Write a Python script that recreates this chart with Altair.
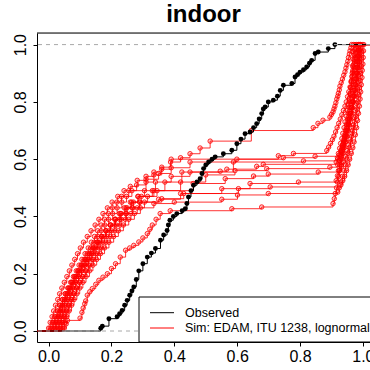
import altair as alt
import pandas as pd

# ---- data: ECDF step points (x, F) ----
observed = [(0.166,0.010),(0.171,0.017),(0.192,0.043),(0.218,0.050),(0.226,0.060),(0.234,0.072),
            (0.242,0.090),(0.250,0.107),(0.258,0.125),(0.265,0.140),(0.271,0.154),(0.279,0.180),
            (0.287,0.210),(0.300,0.235),(0.314,0.258),(0.327,0.272),(0.340,0.288),(0.356,0.317),
            (0.366,0.335),(0.377,0.351),(0.381,0.370),(0.386,0.387),(0.397,0.400),(0.408,0.410),
            (0.425,0.420),(0.435,0.427),(0.440,0.445),(0.445,0.468),(0.453,0.490),(0.461,0.509),
            (0.472,0.520),(0.482,0.532),(0.488,0.550),(0.493,0.567),(0.500,0.580),(0.509,0.590),
            (0.520,0.600),(0.530,0.608),(0.556,0.619),(0.583,0.631),(0.599,0.654),(0.612,0.670),
            (0.625,0.689),(0.641,0.695),(0.652,0.710),(0.662,0.724),(0.670,0.740),(0.678,0.759),
            (0.683,0.775),(0.689,0.782),(0.699,0.800),(0.715,0.806),(0.728,0.820),(0.737,0.840),
            (0.747,0.858),(0.774,0.864),(0.784,0.887),(0.792,0.895),(0.800,0.904),(0.811,0.912),
            (0.821,0.922),(0.830,0.935),(0.837,0.945),(0.848,0.969),(0.858,0.974),(0.890,0.986),
            (0.911,1.000)]

sim_01 = [(0.000,0.01),(0.005,0.03),(0.011,0.05),(0.016,0.07),(0.022,0.09),(0.029,0.11),(0.035,0.13),
          (0.042,0.15),(0.050,0.17),(0.058,0.19),(0.066,0.21),(0.074,0.23),(0.083,0.25),(0.092,0.27),
          (0.101,0.29),(0.111,0.31),(0.123,0.33),(0.135,0.35),(0.148,0.37),(0.160,0.39),(0.173,0.41),
          (0.187,0.43),(0.202,0.45),(0.220,0.47),(0.240,0.49),(0.260,0.505),(0.282,0.526),(0.310,0.54),
          (0.335,0.555),(0.360,0.572),(0.388,0.59),(0.420,0.605),(0.450,0.619),(0.482,0.639),(0.514,0.663),
          (0.645,0.70),(0.842,0.71),(0.857,0.725),(0.873,0.736),(0.895,0.747),(0.900,0.756),(0.905,0.765),
          (0.908,0.775),(0.911,0.785),(0.914,0.797),(0.917,0.81),(0.920,0.82),(0.922,0.83),(0.925,0.842),
          (0.927,0.855),(0.931,0.867),(0.935,0.88),(0.939,0.893),(0.943,0.905),(0.946,0.918),(0.949,0.93),
          (0.952,0.942),(0.954,0.955),(0.957,0.967),(0.959,0.978),(0.962,0.989),(0.964,1.0)]
sim_02 = [(0.010,0.01),(0.016,0.03),(0.023,0.05),(0.030,0.07),(0.037,0.09),(0.045,0.11),(0.053,0.13),
          (0.061,0.15),(0.070,0.17),(0.079,0.19),(0.088,0.21),(0.097,0.23),(0.106,0.25),(0.116,0.27),
          (0.126,0.29),(0.136,0.31),(0.146,0.33),(0.156,0.35),(0.167,0.37),(0.178,0.39),(0.190,0.41),
          (0.203,0.43),(0.217,0.45),(0.232,0.47),(0.255,0.49),(0.280,0.51),(0.310,0.53),(0.350,0.55),
          (0.390,0.57),(0.450,0.59),(0.599,0.60),(0.731,0.612),(0.779,0.62),(0.885,0.63),(0.891,0.642),
          (0.897,0.655),(0.903,0.668),(0.908,0.68),(0.913,0.695),(0.918,0.71),(0.923,0.725),(0.928,0.74),
          (0.933,0.755),(0.938,0.77),(0.943,0.785),(0.947,0.80),(0.951,0.818),(0.955,0.835),(0.959,0.852),
          (0.962,0.87),(0.965,0.888),(0.968,0.905),(0.971,0.922),(0.973,0.94),(0.975,0.955),(0.977,0.97),
          (0.979,0.985),(0.980,1.0)]
sim_03 = [(0.020,0.01),(0.025,0.03),(0.031,0.05),(0.037,0.07),(0.043,0.09),(0.050,0.11),(0.058,0.13),
          (0.066,0.15),(0.075,0.17),(0.084,0.19),(0.093,0.21),(0.103,0.23),(0.113,0.25),(0.123,0.27),
          (0.134,0.29),(0.145,0.31),(0.156,0.33),(0.167,0.35),(0.179,0.37),(0.191,0.39),(0.204,0.41),
          (0.218,0.43),(0.233,0.45),(0.248,0.47),(0.265,0.49),(0.310,0.52),(0.335,0.545),(0.360,0.565),
          (0.390,0.60),(0.747,0.605),(0.848,0.61),(0.930,0.625),(0.934,0.64),(0.938,0.655),(0.942,0.672),
          (0.946,0.69),(0.950,0.708),(0.954,0.725),(0.958,0.742),(0.961,0.76),(0.964,0.78),(0.967,0.80),
          (0.970,0.82),(0.973,0.84),(0.976,0.86),(0.978,0.88),(0.980,0.90),(0.982,0.92),(0.984,0.94),
          (0.986,0.96),(0.988,0.98),(0.990,1.0)]
sim_04 = [(0.005,0.01),(0.012,0.03),(0.019,0.05),(0.027,0.07),(0.035,0.09),(0.044,0.11),(0.053,0.13),
          (0.063,0.15),(0.073,0.17),(0.083,0.19),(0.094,0.21),(0.105,0.23),(0.117,0.25),(0.129,0.27),
          (0.141,0.29),(0.154,0.31),(0.168,0.33),(0.182,0.35),(0.197,0.37),(0.213,0.39),(0.229,0.41),
          (0.246,0.43),(0.264,0.45),(0.284,0.47),(0.305,0.49),(0.340,0.52),(0.390,0.54),(0.450,0.555),
          (0.588,0.59),(0.811,0.594),(0.920,0.60),(0.925,0.615),(0.930,0.63),(0.935,0.648),(0.940,0.665),
          (0.945,0.682),(0.949,0.70),(0.953,0.72),(0.957,0.74),(0.961,0.76),(0.965,0.78),(0.969,0.80),
          (0.972,0.82),(0.975,0.84),(0.978,0.86),(0.981,0.88),(0.983,0.90),(0.985,0.92),(0.987,0.94),
          (0.989,0.955),(0.990,0.97),(0.991,0.985),(0.992,1.0)]
sim_05 = [(0.030,0.01),(0.035,0.03),(0.041,0.05),(0.048,0.07),(0.055,0.09),(0.062,0.11),(0.070,0.13),
          (0.078,0.15),(0.087,0.17),(0.096,0.19),(0.105,0.21),(0.115,0.23),(0.125,0.25),(0.136,0.27),
          (0.147,0.29),(0.158,0.31),(0.170,0.33),(0.183,0.35),(0.196,0.37),(0.210,0.39),(0.225,0.41),
          (0.241,0.43),(0.260,0.45),(0.285,0.47),(0.330,0.49),(0.370,0.52),(0.424,0.555),(0.546,0.558),
          (0.567,0.565),(0.662,0.575),(0.683,0.582),(0.915,0.59),(0.919,0.605),(0.922,0.62),(0.926,0.638),
          (0.929,0.655),(0.933,0.672),(0.936,0.69),(0.940,0.71),(0.943,0.73),(0.947,0.75),(0.950,0.77),
          (0.953,0.79),(0.956,0.81),(0.959,0.83),(0.961,0.85),(0.964,0.87),(0.966,0.89),(0.968,0.91),
          (0.970,0.93),(0.972,0.948),(0.973,0.965),(0.974,0.982),(0.975,1.0)]
sim_06 = [(0.015,0.01),(0.022,0.03),(0.029,0.05),(0.036,0.07),(0.044,0.09),(0.052,0.11),(0.060,0.13),
          (0.069,0.15),(0.078,0.17),(0.088,0.19),(0.098,0.21),(0.109,0.23),(0.120,0.25),(0.131,0.27),
          (0.143,0.29),(0.155,0.31),(0.168,0.33),(0.182,0.35),(0.197,0.37),(0.213,0.39),(0.231,0.41),
          (0.250,0.43),(0.270,0.45),(0.295,0.47),(0.335,0.49),(0.420,0.52),(0.500,0.545),(0.593,0.56),
          (0.694,0.567),(0.895,0.572),(0.920,0.58),(0.925,0.595),(0.930,0.61),(0.935,0.628),(0.940,0.645),
          (0.945,0.662),(0.949,0.68),(0.953,0.70),(0.957,0.72),(0.961,0.74),(0.964,0.76),(0.967,0.78),
          (0.970,0.80),(0.973,0.82),(0.975,0.84),(0.977,0.86),(0.979,0.88),(0.981,0.90),(0.982,0.92),
          (0.983,0.94),(0.984,0.96),(0.985,0.98),(0.986,1.0)]
sim_07 = [(0.040,0.01),(0.045,0.03),(0.051,0.05),(0.058,0.07),(0.065,0.09),(0.073,0.11),(0.081,0.13),
          (0.089,0.15),(0.098,0.17),(0.107,0.19),(0.117,0.21),(0.127,0.23),(0.138,0.25),(0.149,0.27),
          (0.161,0.29),(0.173,0.31),(0.186,0.33),(0.200,0.35),(0.215,0.37),(0.231,0.39),(0.248,0.41),
          (0.268,0.43),(0.290,0.45),(0.315,0.47),(0.345,0.49),(0.460,0.515),(0.562,0.532),(0.652,0.541),
          (0.699,0.548),(0.858,0.555),(0.925,0.56),(0.932,0.575),(0.938,0.59),(0.944,0.61),(0.950,0.63),
          (0.955,0.65),(0.960,0.67),(0.965,0.69),(0.969,0.71),(0.973,0.73),(0.977,0.75),(0.981,0.775),
          (0.984,0.80),(0.987,0.825),(0.989,0.85),(0.991,0.875),(0.993,0.90),(0.995,0.925),(0.996,0.95),
          (0.997,0.975),(0.998,1.0)]
sim_08 = [(0.025,0.01),(0.031,0.03),(0.037,0.05),(0.044,0.07),(0.051,0.09),(0.059,0.11),(0.067,0.13),
          (0.076,0.15),(0.085,0.17),(0.095,0.19),(0.105,0.21),(0.116,0.23),(0.127,0.25),(0.139,0.27),
          (0.151,0.29),(0.164,0.31),(0.178,0.33),(0.193,0.35),(0.209,0.37),(0.226,0.39),(0.245,0.41),
          (0.266,0.43),(0.290,0.45),(0.350,0.46),(0.420,0.48),(0.551,0.497),(0.641,0.515),(0.795,0.52),
          (0.915,0.525),(0.919,0.542),(0.922,0.56),(0.926,0.58),(0.929,0.60),(0.933,0.62),(0.936,0.64),
          (0.939,0.66),(0.942,0.68),(0.945,0.70),(0.948,0.72),(0.951,0.74),(0.953,0.76),(0.956,0.78),
          (0.958,0.80),(0.960,0.825),(0.962,0.85),(0.964,0.875),(0.966,0.90),(0.967,0.925),(0.968,0.95),
          (0.969,0.975),(0.970,1.0)]
sim_09 = [(0.035,0.01),(0.041,0.03),(0.048,0.05),(0.055,0.07),(0.063,0.09),(0.071,0.11),(0.080,0.13),
          (0.089,0.15),(0.099,0.17),(0.109,0.19),(0.120,0.21),(0.131,0.23),(0.143,0.25),(0.155,0.27),
          (0.168,0.29),(0.182,0.31),(0.196,0.33),(0.211,0.35),(0.227,0.37),(0.244,0.39),(0.262,0.41),
          (0.282,0.43),(0.305,0.45),(0.360,0.462),(0.430,0.48),(0.604,0.497),(0.705,0.503),(0.930,0.51),
          (0.936,0.525),(0.942,0.54),(0.948,0.56),(0.953,0.58),(0.958,0.60),(0.963,0.62),(0.968,0.64),
          (0.972,0.66),(0.976,0.685),(0.980,0.71),(0.983,0.735),(0.986,0.76),(0.989,0.785),(0.991,0.81),
          (0.993,0.835),(0.995,0.86),(0.997,0.885),(0.998,0.91),(1.000,0.932),(1.001,0.955),(1.002,0.978),
          (1.003,1.0)]
sim_10 = [(0.045,0.01),(0.051,0.03),(0.058,0.05),(0.065,0.07),(0.073,0.09),(0.081,0.11),(0.090,0.13),
          (0.099,0.15),(0.109,0.17),(0.119,0.19),(0.130,0.21),(0.141,0.23),(0.153,0.25),(0.165,0.27),
          (0.178,0.29),(0.192,0.31),(0.207,0.33),(0.222,0.35),(0.238,0.37),(0.255,0.39),(0.273,0.41),
          (0.292,0.43),(0.335,0.445),(0.400,0.45),(0.551,0.46),(0.601,0.475),(0.699,0.48),(0.920,0.485),
          (0.925,0.50),(0.930,0.52),(0.935,0.54),(0.940,0.56),(0.945,0.58),(0.949,0.60),(0.953,0.62),
          (0.957,0.64),(0.961,0.66),(0.964,0.68),(0.967,0.70),(0.970,0.72),(0.973,0.745),(0.976,0.77),
          (0.979,0.795),(0.981,0.82),(0.983,0.845),(0.985,0.87),(0.987,0.895),(0.988,0.92),(0.989,0.94),
          (0.990,0.96),(0.991,0.98),(0.992,1.0)]
sim_11 = [(0.050,0.01),(0.056,0.025),(0.060,0.037),(0.100,0.045),(0.106,0.065),(0.110,0.08),(0.115,0.095),
          (0.118,0.105),(0.123,0.125),(0.131,0.137),(0.139,0.148),(0.150,0.163),(0.160,0.177),(0.173,0.188),
          (0.187,0.20),(0.200,0.218),(0.213,0.235),(0.228,0.258),(0.245,0.282),(0.258,0.29),(0.271,0.299),
          (0.287,0.311),(0.300,0.325),(0.314,0.34),(0.322,0.355),(0.330,0.37),(0.342,0.39),(0.355,0.41),
          (0.387,0.42),(0.583,0.427),(0.678,0.433),(0.905,0.445),(0.909,0.462),(0.912,0.48),(0.916,0.50),
          (0.919,0.52),(0.923,0.54),(0.926,0.56),(0.930,0.58),(0.933,0.60),(0.937,0.62),(0.940,0.64),
          (0.944,0.66),(0.947,0.68),(0.950,0.70),(0.953,0.72),(0.956,0.74),(0.959,0.76),(0.962,0.78),
          (0.965,0.80),(0.968,0.82),(0.970,0.84),(0.973,0.86),(0.975,0.88),(0.977,0.90),(0.979,0.92),
          (0.981,0.94),(0.982,0.96),(0.984,0.98),(0.985,1.0)]

simulations = [sim_01, sim_02, sim_03, sim_04, sim_05, sim_06, sim_07, sim_08, sim_09, sim_10, sim_11]
x_ticks = [0.0, 0.2, 0.4, 0.6, 0.8, 1.0]
y_ticks = [0.0, 0.2, 0.4, 0.6, 0.8, 1.0]
legend_labels = ["Observed", "Sim: EDAM, ITU 1238, lognormal"]
legend_colors = ["black", "#ff0000"]
ref_levels = [0.0, 1.0]

# ---- build table ----
rows = []
def add_series(name, kind, pts):
    # ECDF extends flat at 0 to the left and at 1 to the right (clipped by the plot)
    rows.append(dict(series=name, kind=kind, x=-0.5, F=0.0, idx=0, ext=True))
    for i, (x, f) in enumerate(pts):
        rows.append(dict(series=name, kind=kind, x=x, F=f, idx=i + 1, ext=False))
    rows.append(dict(series=name, kind=kind, x=1.5, F=1.0, idx=len(pts) + 1, ext=True))

for k, s in enumerate(simulations):
    add_series(f"sim{k+1:02d}", "sim", s)
add_series("obs", "obs", observed)
df = pd.DataFrame(rows)

W, H = 333, 309
FONT = "Liberation Sans"
xscale = alt.Scale(domain=[-0.0369, 1.0226], nice=False, zero=False)
yscale = alt.Scale(domain=[-0.0384, 1.0405], nice=False, zero=False)

xaxis = alt.Axis(values=x_ticks, format=".1f", title=None, grid=False, tickSize=4,
                 tickColor="black", domainColor="black", labelColor="black",
                 labelFontSize=16, labelPadding=2, labelFlush=False, labelOverlap=False)
yaxis = alt.Axis(values=y_ticks, format=".1f", title=None, grid=False, tickSize=4,
                 tickColor="black", domainColor="black", labelColor="black",
                 labelFontSize=16, labelAngle=270, labelAlign="center",
                 labelBaseline="alphabetic", labelPadding=8, labelFlush=False,
                 labelOverlap=False)

base = alt.Chart(df)
X = alt.X("x:Q", scale=xscale, axis=xaxis)
Y = alt.Y("F:Q", scale=yscale, axis=yaxis)

sim_lines = base.transform_filter("datum.kind == 'sim'").mark_line(
    interpolate="step-after", color="#ff0000", strokeWidth=1, opacity=0.8, clip=True
).encode(x=X, y=Y, detail="series:N", order="idx:Q")

sim_pts = base.transform_filter("datum.kind == 'sim' && !datum.ext").mark_point(
    shape="circle", size=20, filled=False, fill="#ff0000", fillOpacity=0.2,
    stroke="#ff0000", strokeOpacity=0.8, strokeWidth=1, clip=True
).encode(x=X, y=Y)

obs_line = base.transform_filter("datum.kind == 'obs'").mark_line(
    interpolate="step-after", color="black", strokeWidth=1, clip=True
).encode(x=X, y=Y, order="idx:Q")

obs_pts = base.transform_filter("datum.kind == 'obs' && !datum.ext").mark_circle(
    size=24, color="black", opacity=1, clip=True
).encode(x=X, y=Y)

refs = alt.Chart(pd.DataFrame({"F": ref_levels})).mark_rule(
    color="#a8a8a8", strokeDash=[4, 4], strokeWidth=1
).encode(y=alt.Y("F:Q", scale=yscale, axis=yaxis))

top_border = alt.Chart(pd.DataFrame({"F": [1.0405]})).mark_rule(
    color="black", strokeWidth=1
).encode(y=alt.Y("F:Q", scale=yscale, axis=yaxis))

# ---- legend (R-style boxed legend, bottom right) ----
one = pd.DataFrame({"a": [0]})
legend_box = alt.Chart(one).mark_rect(
    fill="white", stroke="black", strokeWidth=1
).encode(x=alt.value(102), x2=alt.value(420), y=alt.value(264), y2=alt.value(309))
legend_parts = [legend_box]
for lab, col, ypos in zip(legend_labels, legend_colors, [279.7, 295.0]):
    legend_parts.append(alt.Chart(one).mark_rule(color=col, strokeWidth=1).encode(
        x=alt.value(113), x2=alt.value(137), y=alt.value(ypos)))
    legend_parts.append(alt.Chart(one).mark_text(
        align="left", baseline="middle", fontSize=12.5, font=FONT, color="black", text=lab
    ).encode(x=alt.value(148), y=alt.value(ypos)))

chart = alt.layer(
    sim_lines, sim_pts, obs_line, obs_pts, refs, top_border, *legend_parts
).properties(
    width=W, height=H,
    title=alt.TitleParams("indoor", fontSize=24, fontWeight="bold", font=FONT,
                          anchor="middle", offset=6, color="black"),
    padding={"left": 37, "top": 33, "right": 0, "bottom": 28},
    autosize=alt.AutoSizeParams(type="none"),
).configure_view(stroke=None).configure(font=FONT)

chart.save("out.html", embed_options={"renderer": "svg", "actions": False})
